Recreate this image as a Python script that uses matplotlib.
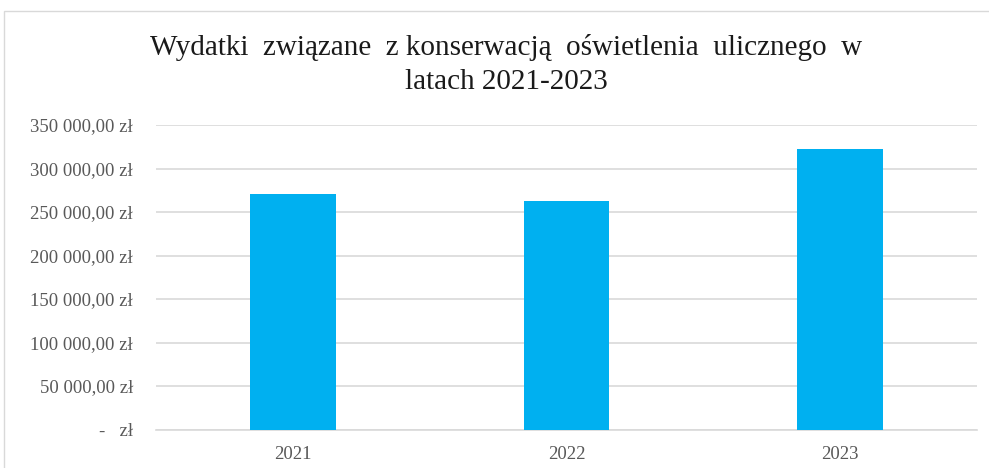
"""Wydatki na konserwację oświetlenia ulicznego 2021-2023."""
import matplotlib
matplotlib.use('Agg')
import matplotlib.pyplot as plt
from matplotlib.patches import Rectangle

FONT = ['Liberation Serif', 'DejaVu Serif']
BAR_COLOR = '#00B0F0'
GRID_COLOR = '#D9D9D9'
LABEL_COLOR = '#595959'

years = ['2021', '2022', '2023']
wydatki = [270500, 262700, 321900]
y_ticks = [0, 50000, 100000, 150000, 200000, 250000, 300000, 350000]
y_tick_labels = ['-   zł', '50 000,00 zł', '100 000,00 zł', '150 000,00 zł',
                 '200 000,00 zł', '250 000,00 zł', '300 000,00 zł',
                 '350 000,00 zł']

plt.rcParams['font.family'] = FONT

fig = plt.figure(figsize=(9.89, 4.68), dpi=100)

# Chart frame (cropped at right and bottom like the screenshot)
fig.patches.append(Rectangle((4 / 989, -0.05), 1.2, 1.05 - 11 / 468,
                             transform=fig.transFigure, fill=False,
                             edgecolor='#D9D9D9', linewidth=1.0))

ax = fig.add_axes([156 / 989, 1 - 429.5 / 468, 821 / 989, 304.5 / 468])

x = range(len(years))
ax.bar(x, wydatki, width=0.314, color=BAR_COLOR, zorder=3)

ax.set_xlim(-0.5, len(years) - 0.5)
ax.set_ylim(0, 350000)
ax.set_yticks(y_ticks)
ax.set_yticklabels(y_tick_labels)
ax.set_xticks(list(x))
ax.set_xticklabels(years)

ax.grid(axis='y', color=GRID_COLOR, linewidth=1.2, zorder=0)
for side in ['top', 'right', 'left']:
    ax.spines[side].set_visible(False)
ax.spines['bottom'].set_color(GRID_COLOR)
ax.spines['bottom'].set_linewidth(1.2)
ax.tick_params(axis='both', length=0, labelsize=13.5, colors=LABEL_COLOR)
ax.tick_params(axis='y', pad=16.5)
ax.tick_params(axis='x', pad=12)

fig.text(0.512, 0.862,
         'Wydatki  związane  z konserwacją  oświetlenia  ulicznego  w\nlatach 2021-2023',
         ha='center', va='center', fontsize=21, color='#1a1a1a',
         linespacing=1.4)

fig.savefig('out.png', dpi=100)
